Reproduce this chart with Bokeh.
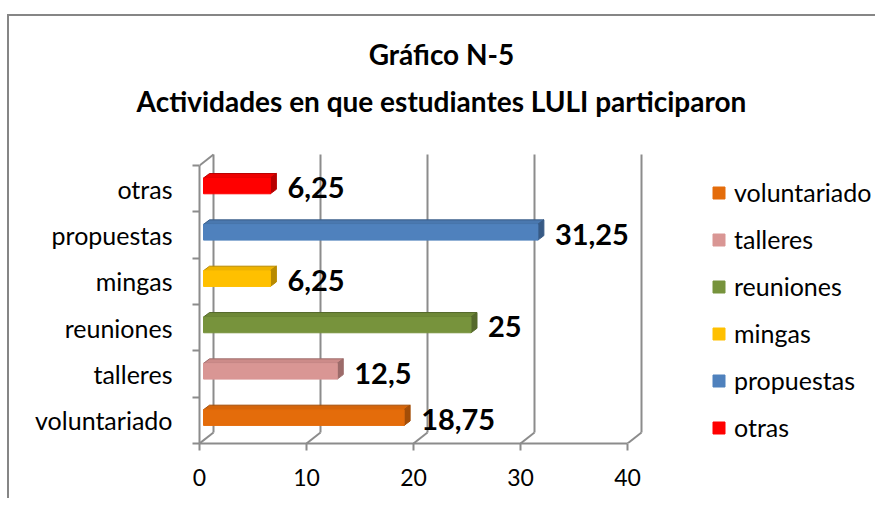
from bokeh.plotting import figure
from bokeh.models import (FixedTicker, Legend, LegendItem, Label,
                          ColumnDataSource, Range1d, InlineStyleSheet)
from bokeh.core.properties import value
from bokeh.embed import file_html
from bokeh.resources import INLINE

# ---- data ----
categories = ["voluntariado", "talleres", "reuniones", "mingas", "propuestas", "otras"]
values = [18.75, 12.5, 25, 6.25, 31.25, 6.25]
front_colors = ["#E46C0A", "#D99694", "#77933C", "#FFC000", "#4F81BD", "#FF0000"]
top_colors = ["#D5650A", "#CC8B89", "#6E8837", "#EEB300", "#4A78AF", "#EE0000"]
side_colors = ["#A34D07", "#9C6B6A", "#55692B", "#B88A00", "#375A85", "#B80000"]
x_ticks = [0, 10, 20, 30, 40]
title_lines = ["Gráfico N-5", "Actividades en que estudiantes LULI participaron"]

FONT = "Lato"
GRID = "#8C8C8C"

W, H = 875, 498
FL, FT, FB = 199, 150, 443            # frame left / top / bottom on canvas
PXX = 10.7                            # px per x unit
PXY = 46.33                           # px per category
x_end = (W - FL) / PXX
y_end = (FB - FT) / PXY

p = figure(width=W, height=H, output_backend="svg", toolbar_location=None,
           x_range=Range1d(0, x_end), y_range=Range1d(0, y_end),
           min_border_left=FL, min_border_top=FT, min_border_bottom=H - FB,
           min_border_right=0)
p.xgrid.visible = False
p.ygrid.visible = False
p.outline_line_color = None
p.background_fill_color = "white"
p.border_fill_color = "white"
p.stylesheets = [InlineStyleSheet(css=(
    ":host::after {content: ''; position: absolute; left: 7px; top: 14px; "
    "right: 0; bottom: 0; border-top: 2px solid #868686; "
    "border-left: 2px solid #868686; pointer-events: none;}"))]

# wall depth and bar geometry (data units from pixel sizes)
wdx, wdy = 14 / PXX, 11 / PXY
b0 = 4 / PXX
bdx, bdy = 6 / PXX, 4.5 / PXY
lo, hi = 0.39, 0.73
n = len(categories)

# back wall gridlines and floor lines
p.segment(x0=[t + wdx for t in x_ticks], y0=[wdy] * 5,
          x1=[t + wdx for t in x_ticks], y1=[n + wdy] * 5,
          line_color=GRID, line_width=2)
p.segment(x0=x_ticks, y0=[0] * 5, x1=[t + wdx for t in x_ticks], y1=[wdy] * 5,
          line_color=GRID, line_width=2)
p.segment(x0=[0], y0=[n], x1=[wdx], y1=[n + wdy], line_color=GRID, line_width=2)

# bars
idx = list(range(n))
front_src = ColumnDataSource(dict(
    left=[b0] * n, right=[v + b0 for v in values],
    bottom=[i + lo for i in idx], top=[i + hi for i in idx],
    color=front_colors))
top_xs = [[b0, v + b0, v + b0 + bdx, b0 + bdx] for v in values]
top_ys = [[i + hi, i + hi, i + hi + bdy, i + hi + bdy] for i in idx]
side_xs = [[v + b0, v + b0, v + b0 + bdx, v + b0 + bdx] for v in values]
side_ys = [[i + lo, i + hi, i + hi + bdy, i + lo + bdy] for i in idx]
p.patches(xs=top_xs, ys=top_ys, fill_color=top_colors, line_color=side_colors, line_width=1)
p.patches(xs=side_xs, ys=side_ys, fill_color=side_colors, line_color=side_colors, line_width=1)
front = p.quad(left="left", right="right", bottom="bottom", top="top",
               fill_color="color", line_color="color", source=front_src)

# data labels
lab_txt = [f"{v:g}".replace(".", ",") for v in values]
p.text(x=values, y=[i + 0.52 for i in idx], text=lab_txt,
       x_offset=21, text_font=value(FONT), text_font_style="bold",
       text_font_size="29px", text_baseline="middle", text_align="left",
       text_color="black")

# axes
xa = p.xaxis[0]
xa.ticker = FixedTicker(ticks=x_ticks)
xa.bounds = (0, 40)
xa.axis_line_color = GRID
xa.axis_line_width = 2
xa.major_tick_line_color = GRID
xa.major_tick_line_width = 2
xa.major_tick_out = 7
xa.major_tick_in = 0
xa.minor_tick_line_color = None
xa.major_label_text_font = FONT
xa.major_label_text_font_size = "23px"
xa.major_label_text_color = "black"
xa.major_label_standoff = 18

ya = p.yaxis[0]
ya.ticker = FixedTicker(ticks=[i + 0.5 for i in idx], minor_ticks=list(range(n + 1)))
ya.major_label_overrides = {i + 0.5: c for i, c in enumerate(categories)}
ya.bounds = (0, n)
ya.axis_line_color = GRID
ya.axis_line_width = 2
ya.major_tick_line_color = None
ya.minor_tick_line_color = GRID
ya.minor_tick_line_width = 2
ya.minor_tick_out = 7
ya.minor_tick_in = 0
ya.major_label_text_font = FONT
ya.major_label_text_font_size = "25px"
ya.major_label_text_color = "black"
ya.major_label_standoff = 20

# legend (inside frame, right of the walls)
legend = Legend(items=[LegendItem(label=c, renderers=[front], index=i)
                       for i, c in enumerate(categories)],
                location=(711 - FL, -2), padding=0, margin=0, spacing=11,
                glyph_width=15, glyph_height=15, label_height=36,
                label_standoff=8, border_line_color=None,
                background_fill_alpha=0,
                label_text_font=FONT, label_text_font_size="25px",
                label_text_color="black")
p.add_layout(legend)

# two-line title, placed in the space above the frame
for t, yy in zip(title_lines, [53, 100]):
    p.add_layout(Label(x=(441 - FL) / PXX, y=(FB - yy) / PXY, text=t,
                       text_align="center", text_baseline="middle",
                       text_font=FONT, text_font_style="bold",
                       text_font_size="28px", text_color="black"), "above")

open("out.html", "w").write(file_html(p, INLINE))
